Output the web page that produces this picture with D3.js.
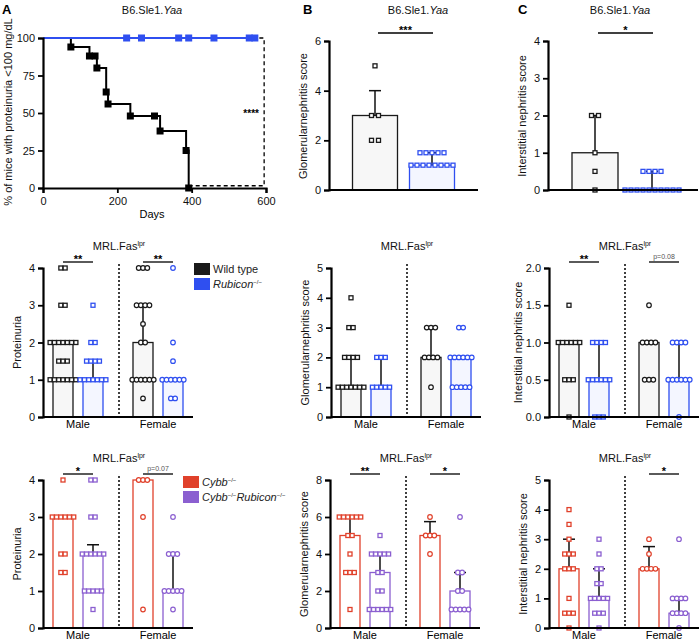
<!DOCTYPE html>
<html><head><meta charset="utf-8">
<script src="https://cdn.jsdelivr.net/npm/d3@7"></script>
<style>body{margin:0;background:#fff}svg{font-family:"Liberation Sans",Arial,sans-serif}</style>
</head><body><svg id="c" width="700" height="642"></svg>
<script>
// ---------- DATA ----------
const survTicksX = [0,200,400,600];
const survTicksY = [0,25,50,75,100];
const wtSurvSteps = [[0,100],[75,94],[125,88],[145,80],[170,64],[175,56],[235,48],[315,38],[385,25],[392,0]];
const wtSurvMarks = [[75,94],[125,88],[140,88],[145,80],[170,64],[175,56],[235,48],[300,48],[315,38],[385,25],[392,0]];
const rubSurvEnd = 575;
const rubSurvMarks = [225,265,365,392,460,555,570];
const dashedEnd = 595;

// top row (B, C): [WT, Rubicon]
const topB_vals = [[5,3,3,2,2],[1.5,1.5,1.5,1.5,1.5,1,1,1,1,1,1,1,1]];
const topB_mean = [3,1]; const topB_err = [4,1.5];
const topC_vals = [[2,2,1,0.5,0],[0.5,0.5,0.5,0.5,0,0,0,0,0,0,0,0,0,0]];
const topC_mean = [1,0]; const topC_err = [2,0.5];

// groups order: male g1, male g2, female g1, female g2
const aMid_vals = [[4,4,3,3,2,2,2,2,2,2,2,1.5,1.5,1.5,1,1,1,1,1,1,1],[3,2,2,1.5,1.5,1.5,1.5,1,1,1,1,1,1,1],[4,4,4,3,3,3,3,2.5,2,2,1,1,1,1,1,1,0.5],[4,2,1.5,1,1,1,1,1,1,0.5,0.5]];
const aMid_mean = [2,1,2,1]; const aMid_err = [null,1.5,3,null];
const aBot_vals = [[4,3,3,3,3,3,3,2,2,1.5,1.5],[4,4,3,3,2,2,2,2,2,2,1,1,1,1,1,0.5],[4,4,4,3,0.5],[3,2,2,2,1,1,1,1,1,0.5]];
const aBot_mean = [3,2,4,1]; const aBot_err = [null,2.25,null,2];
const bMid_vals = [[4,3,3,2,2,2,2,1,1,1,1,1,1,1],[2,2,2,1,1,1,1,1],[3,3,3,2,2,2,2,1],[3,3,2,2,2,2,2,2,1,1,1,1,1]];
const bMid_mean = [1,1,2,2]; const bMid_err = [2,2,3,null];
const bBot_vals = [[6,6,6,6,6,6,5,5,4,3,3,3,1],[5,4,4,4,4,4,3,3,2,2,1,1,1,1,1,1],[6,5,5,5,4],[6,3,3,2,2,1,1,1,1,1]];
const bBot_mean = [5,3,5,2]; const bBot_err = [6,4,5.75,3];
const cMid_vals = [[1.5,1,1,1,1,1,1,0.5,0.5,0.5,0],[1,1,1,1,0.5,0.5,0.5,0.5,0.5,0.5,0,0,0],[1.5,1,1,1,1,0.5,0.5,0.5],[1,1,1,1,0.5,0.5,0.5,0.5,0.5,0.5,0]];
const cMid_mean = [1,0.5,1,0.5]; const cMid_err = [null,1,null,1];
const cBot_vals = [[4,3.5,3,2.5,2.5,2.5,2,2,2,1,0.5,0.5,0.5,0],[3,2.5,2,2,1.5,1.5,1,1,1,1,1,0.5,0.5,0.5,0],[3,2.5,2,2,2,2],[3,1,1,1,1,0.5,0.5,0.5,0.5,0]];
const cBot_mean = [2,1,2,0.5]; const cBot_err = [3,2,2.75,1];

const sexLabels = ["Male","Female"];
const legendMid = ["Wild type","Rubicon"];
const legendBot = ["Cybb","Cybb Rubicon"];

// ---------- DRAW ----------
const svg = d3.select("#c");
const BLK="#1a1a1a", BLUE="#2f4ff0", RED="#e0412b", PUR="#8b5fd0";

function axisStyle(g){
  g.selectAll("path.domain").attr("stroke","#000").attr("stroke-width",2.2);
  g.selectAll(".tick line").attr("stroke","#000").attr("stroke-width",1.8);
  g.selectAll(".tick text").attr("font-size",11).attr("fill","#111");
}
function ylabel(x,y,text){
  svg.append("text").attr("transform",`translate(${x},${y}) rotate(-90)`).attr("text-anchor","middle")
    .attr("font-size",11).attr("fill","#111").text(text);
}
function mrlTitle(cx,y){
  const t=svg.append("text").attr("x",cx).attr("y",y).attr("text-anchor","middle").attr("font-size",11).attr("fill","#111");
  t.append("tspan").text("MRL.Fas");
  t.append("tspan").attr("font-size",7).attr("dy",-4).text("lpr");
}
function yaaTitle(cx,y){
  const t=svg.append("text").attr("x",cx).attr("y",y).attr("text-anchor","middle").attr("font-size",11).attr("fill","#111");
  t.append("tspan").text("B6.Sle1.");
  t.append("tspan").attr("font-style","italic").text("Yaa");
}
function sig(x1,x2,y,label,small){
  svg.append("line").attr("x1",x1).attr("x2",x2).attr("y1",y).attr("y2",y).attr("stroke","#000").attr("stroke-width",1.3);
  svg.append("text").attr("x",(x1+x2)/2).attr("y",small?y-3:y+1).attr("text-anchor","middle")
    .attr("font-size",small?7:11).attr("font-weight",small?"normal":"bold").attr("fill",small?"#555":"#000").text(label);
}
function points(y,vals,cx,color,shape,step){
  const groups=d3.groups(vals,v=>v);
  groups.forEach(([v,arr])=>{
    const n=arr.length;
    arr.forEach((_,i)=>{
      const px=cx+(i-(n-1)/2)*step, py=y(v);
      if(shape==="sq") svg.append("rect").attr("x",px-2).attr("y",py-2).attr("width",4).attr("height",4)
        .attr("fill","#fff").attr("stroke",color).attr("stroke-width",1.3);
      else svg.append("circle").attr("cx",px).attr("cy",py).attr("r",2.3)
        .attr("fill","#fff").attr("stroke",color).attr("stroke-width",1.2);
    });
  });
}
function bar(y,cx,w,mean,err,color,fill){
  svg.append("rect").attr("x",cx-w/2).attr("y",y(mean)).attr("width",w).attr("height",y(0)-y(mean))
    .attr("fill",fill).attr("stroke",color).attr("stroke-width",1.3);
}
function errbar(y,cx,mean,err){
  if(err==null) return;
  svg.append("line").attr("x1",cx).attr("x2",cx).attr("y1",y(mean)).attr("y2",y(err)).attr("stroke","#111").attr("stroke-width",1.5);
  svg.append("line").attr("x1",cx-6).attr("x2",cx+6).attr("y1",y(err)).attr("y2",y(err)).attr("stroke","#111").attr("stroke-width",1.5);
}
const intFmt=d3.format("d");

// ---- Panel A top: survival ----
(function(){
  const x=d3.scaleLinear().domain([0,600]).range([43,266]);
  const y=d3.scaleLinear().domain([0,100]).range([188,38]);
  const line=d3.line().x(d=>x(d[0])).y(d=>y(d[1])).curve(d3.curveStepAfter);
  svg.append("path").attr("d",d3.line()([[x(392),y(1.5)],[x(dashedEnd),y(1.5)],[x(dashedEnd),y(100)],[x(rubSurvEnd),y(100)]]))
    .attr("fill","none").attr("stroke","#000").attr("stroke-width",1.3).attr("stroke-dasharray","4,3");
  svg.append("path").attr("d",line(wtSurvSteps)).attr("fill","none").attr("stroke","#000").attr("stroke-width",2);
  svg.append("line").attr("x1",x(0)).attr("x2",x(rubSurvEnd)).attr("y1",y(100)).attr("y2",y(100)).attr("stroke",BLUE).attr("stroke-width",2);
  wtSurvMarks.forEach(d=>svg.append("rect").attr("x",x(d[0])-3.5).attr("y",y(d[1])-3.5).attr("width",7).attr("height",7).attr("fill","#000"));
  rubSurvMarks.forEach(d=>svg.append("rect").attr("x",x(d)-3.5).attr("y",y(100)-3.5).attr("width",7).attr("height",7).attr("fill",BLUE));
  svg.append("g").attr("transform","translate(0,188)").call(d3.axisBottom(x).tickValues(survTicksX).tickFormat(intFmt).tickSize(5).tickPadding(4)).call(axisStyle);
  svg.append("g").attr("transform","translate(43,0)").call(d3.axisLeft(y).tickValues(survTicksY).tickFormat(intFmt).tickSize(5).tickPadding(3)).call(axisStyle);
  svg.append("text").attr("x",x(560)).attr("y",y(50)+4).attr("text-anchor","middle").attr("font-size",10).attr("font-weight","bold").text("****");
  svg.append("text").attr("x",152).attr("y",218).attr("text-anchor","middle").attr("font-size",11).text("Days");
  ylabel(12,112,"% of mice with proteinuria <100 mg/dL");
  yaaTitle(152,14);
  svg.append("text").attr("x",2).attr("y",14).attr("font-size",13).attr("font-weight","bold").text("A");
})();

// ---- top bar panels ----
function topPanel(x0,x1,cxs,w,vals,mean,err,max,ticks,label,sigLabel){
  const y=d3.scaleLinear().domain([0,max]).range([190,41]);
  bar(y,cxs[0],w,mean[0],err[0],BLK,"#f7f7f7");
  bar(y,cxs[1],w,mean[1],err[1],BLUE,"#f4f6ff");
  errbar(y,cxs[0],mean[0],err[0]); errbar(y,cxs[1],mean[1],err[1]);
  points(y,vals[0],cxs[0],BLK,"sq",7);
  points(y,vals[1],cxs[1],BLUE,"sq",6);
  svg.append("path").attr("d",`M${x0},190H${x1}`).attr("stroke","#000").attr("stroke-width",2.2);
  svg.append("g").attr("transform",`translate(${x0},0)`).call(d3.axisLeft(y).tickValues(ticks).tickFormat(intFmt).tickSize(5).tickPadding(3)).call(axisStyle);
  sig(cxs[0]+3,cxs[1]+1,33,sigLabel,false);
  ylabel(x0-22,116,label);
}
topPanel(329,478,[375,432],45,topB_vals,topB_mean,topB_err,6,[0,2,4,6],"Glomerularnephritis score","***");
yaaTitle(418,14);
svg.append("text").attr("x",303).attr("y",14).attr("font-size",13).attr("font-weight","bold").text("B");
topPanel(548,698,[595,652],46,topC_vals,topC_mean,topC_err,4,[0,1,2,3,4],"Interstitial nephritis score","*");
yaaTitle(620,14);
svg.append("text").attr("x",518).attr("y",14).attr("font-size",13).attr("font-weight","bold").text("C");

// ---- grouped panels ----
const offs=[20,50,100,130];
function groupPanel(x0,y0,y1,vals,mean,err,max,ticks,tickFmt,label,cols,fills,sigs){
  const y=d3.scaleLinear().domain([0,max]).range([y0,y1]);
  const cx=offs.map(o=>x0+o);
  svg.append("line").attr("x1",x0+76).attr("x2",x0+76).attr("y1",y1-4).attr("y2",y0).attr("stroke","#000").attr("stroke-width",1.5).attr("stroke-dasharray","2,2");
  for(let i=0;i<4;i++) bar(y,cx[i],20,mean[i],err[i],cols[i%2],fills[i%2]);
  for(let i=0;i<4;i++) errbar(y,cx[i],mean[i],err[i]);
  for(let i=0;i<4;i++) points(y,vals[i],cx[i],cols[i%2],i<2?"sq":"circ",4.3);
  svg.append("path").attr("d",`M${x0},${y0}H${x0+150}`).attr("stroke","#000").attr("stroke-width",2.2);
  const ax=d3.axisLeft(y).tickValues(ticks).tickSize(5).tickPadding(3).tickFormat(tickFmt||intFmt);
  svg.append("g").attr("transform",`translate(${x0},0)`).call(ax).call(axisStyle);
  sexLabels.forEach((s,i)=>svg.append("text").attr("x",x0+35+i*80).attr("y",y0+11).attr("text-anchor","middle").attr("font-size",11).text(s));
  sigs.forEach((s,i)=>{ if(s) sig(cx[i*2],cx[i*2+1],y1-6,s,s.startsWith("p")); });
  ylabel(tickFmt?x0-27:x0-22,(y0+y1)/2,label);
  mrlTitle(x0+76,y1-18);
}
const midY0=417, midY1=268, botY0=628, botY1=480;
groupPanel(43,midY0,midY1,aMid_vals,aMid_mean,aMid_err,4,[0,1,2,3,4],null,"Proteinuria",[BLK,BLUE],["#f7f7f7","#f4f6ff"],["**","**"]);
groupPanel(331,midY0,midY1,bMid_vals,bMid_mean,bMid_err,5,[0,1,2,3,4,5],null,"Glomerularnephritis score",[BLK,BLUE],["#f7f7f7","#f4f6ff"],[null,null]);
groupPanel(549,midY0,midY1,cMid_vals,cMid_mean,cMid_err,2,[0,0.5,1,1.5,2],d3.format(".1f"),"Interstitial nephritis score",[BLK,BLUE],["#f7f7f7","#f4f6ff"],["**","p=0.08"]);
groupPanel(43,botY0,botY1,aBot_vals,aBot_mean,aBot_err,4,[0,1,2,3,4],null,"Proteinuria",[RED,PUR],["#fff","#fff"],["*","p=0.07"]);
groupPanel(330,botY0,botY1,bBot_vals,bBot_mean,bBot_err,8,[0,2,4,6,8],null,"Glomerularnephritis score",[RED,PUR],["#fff","#fff"],["**","*"]);
groupPanel(549,botY0,botY1,cBot_vals,cBot_mean,cBot_err,5,[0,1,2,3,4,5],null,"Interstitial nephritis score",[RED,PUR],["#fff","#fff"],[null,"*"]);

function legend(x,y,cols,parts){
  parts.forEach((p,i)=>{
    svg.append("rect").attr("x",x).attr("y",y+i*15-6).attr("width",16).attr("height",12).attr("fill",cols[i]);
    const t=svg.append("text").attr("x",x+19).attr("y",y+i*15+4).attr("font-size",11).attr("fill","#222");
    p.forEach(seg=>{
      const s=t.append("tspan").text(seg.t);
      if(seg.i) s.attr("font-style","italic");
      if(seg.sup) s.attr("font-size",6).attr("dy",-4);
      if(seg.down) s.attr("dy",4);
    });
  });
}
legend(194,269,[BLK,BLUE],[[{t:legendMid[0]}],[{t:legendMid[1],i:1},{t:"−/−",sup:1}]]);
legend(183,482,[RED,PUR],[[{t:legendBot[0],i:1},{t:"−/−",sup:1}],
  [{t:legendBot[1].split(" ")[0],i:1},{t:"−/−",sup:1},{t:legendBot[1].split(" ")[1],i:1,down:1},{t:"−/−",sup:1}]]);
</script></body></html>
